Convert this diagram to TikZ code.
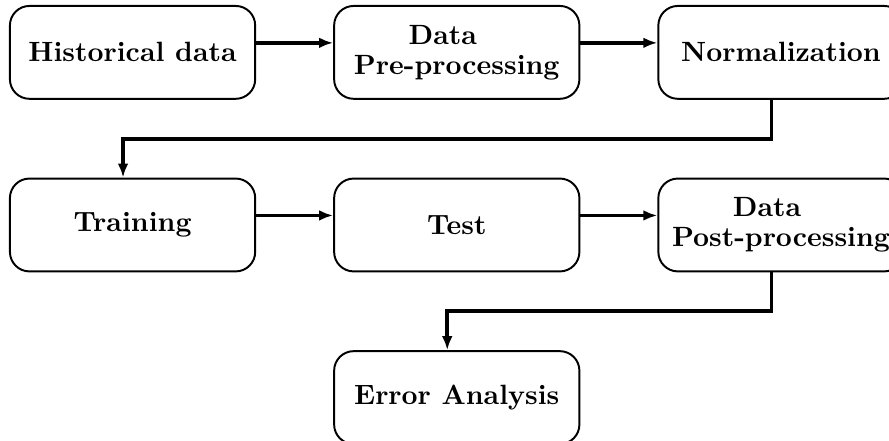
\documentclass[tikz,border=0pt]{standalone}
\usepackage{tikz}
\usetikzlibrary{arrows.meta,positioning}

\begin{document}
\begin{tikzpicture}[
    node distance=0.98cm and 0.97cm,
    box/.style={rectangle, draw, rounded corners=7pt, minimum width=3.09cm, minimum height=1.17cm, align=center, line width=0.7pt, font=\bfseries\fontsize{10pt}{10.8pt}\selectfont},
    arrow/.style={->, >={Latex[length=5pt,width=3.8pt]}, line width=1.4pt}
]
\useasboundingbox (-1.67,0.66) rectangle (9.53,-4.895);

% First row
\node[box] (hist) at (0,0) {Historical data};
\node[box, right=of hist] (prep) {Data\kern10pt\\Pre-processing};
\node[box, right=of prep] (norm) {Normalization};

% Second row
\node[box, below=of hist] (train) {Training};
\node[box, right=of train] (test) {Test};
\node[box, right=of test] (post) {Data\kern10pt\\Post-processing};

% Last row
\node[box, below=of test] (err) {Error Analysis};

% Connections
\draw[arrow] ([yshift=0.12cm]hist.east) -- ([yshift=0.12cm]prep.west);
\draw[arrow] ([yshift=0.12cm]prep.east) -- ([yshift=0.12cm]norm.west);
\draw[arrow] ([xshift=-0.12cm]norm.south) -- ++(0,-0.49) -| ([xshift=-0.12cm]train.north);
\draw[arrow] ([yshift=0.12cm]train.east) -- ([yshift=0.12cm]test.west);
\draw[arrow] ([yshift=0.12cm]test.east) -- ([yshift=0.12cm]post.west);
\draw[arrow] ([xshift=-0.12cm]post.south) -- ++(0,-0.49) -| ([xshift=-0.12cm]err.north);

\end{tikzpicture}
\end{document}
